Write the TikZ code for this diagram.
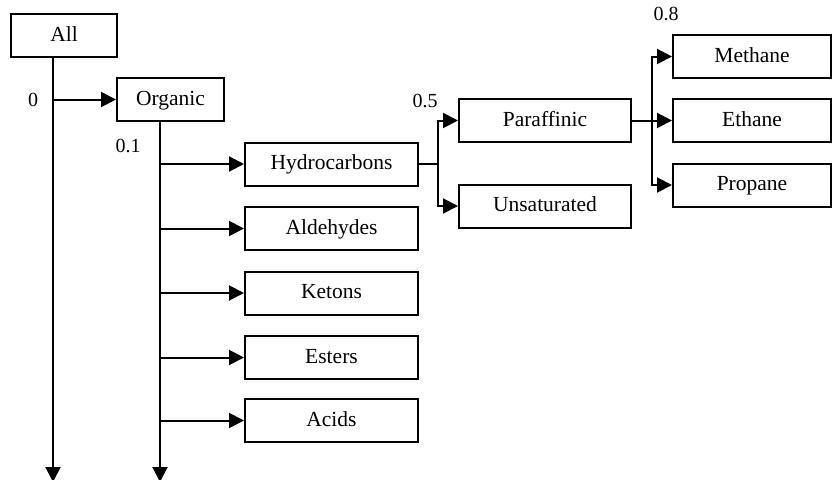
\documentclass[tikz,border=0pt]{standalone}
\usepackage{fontspec}
\setmainfont{Liberation Serif}
\usetikzlibrary{arrows.meta,positioning}

\begin{document}
\begin{tikzpicture}[x=1pt, y=-1pt,
      box/.style={draw, line width=2pt, minimum height=43pt, inner sep=0pt,
                  text height=15pt, text depth=4pt,
                  font=\fontsize{21.5}{24}\selectfont},
      classbox/.style={box, minimum width=173pt},
      gasbox/.style={box, minimum width=158pt},
      link/.style={line width=2pt},
      flow/.style={link, -{Triangle[length=15pt, width=15pt]}},
      weight/.style={font=\fontsize{20}{23}\selectfont}]
    \useasboundingbox (0,0) rectangle (834,479);
    % boxes
    \node[box, minimum width=106pt] (all)     at (64,35.5)   {All};
    \node[box, minimum width=107pt] (organic) at (170.5,99.5) {Organic};
    \node[classbox] (hydro)   at (331.5,164)   {Hydrocarbons};
    \node[classbox] (aldeh)   at (331.5,228.5) {Aldehydes};
    \node[classbox] (ketons)  at (331.5,293)   {Ketons};
    \node[classbox] (esters)  at (331.5,357.5) {Esters};
    \node[classbox] (acids)   at (331.5,420.5) {Acids};
    \node[box, minimum width=172pt] (paraf) at (545,120.5) {Paraffinic};
    \node[box, minimum width=172pt] (unsat) at (545,206)   {Unsaturated};
    \node[gasbox] (methane) at (752,56.5)  {Methane};
    \node[gasbox] (ethane)  at (752,120.5) {Ethane};
    \node[gasbox] (propane) at (752,185)   {Propane};
    % weights
    \node[weight] (w0)  at (33,100)  {0};
    \node[weight] (w1)  at (128,146) {0.1};
    \node[weight] (w5)  at (425,101) {0.5};
    \node[weight] (w8)  at (666,14)  {0.8};
    % junctions
    \coordinate (allend)  at (53,482);
    \coordinate (orgend)  at (160,482);
    \coordinate (hjoin)   at (438,164);
    \coordinate (pjoin)   at (652,120.5);
    % connectors
    \draw[flow] (all.south -| allend) -- (allend);
    \draw[flow] (organic.west -| allend) -- (organic.west);
    \draw[flow] (organic.south -| orgend) -- (orgend);
    \foreach \n in {hydro,aldeh,ketons,esters,acids}
      \draw[flow] (\n.west -| orgend) -- (\n.west);
    \draw[link] (hydro.east) -- (hjoin);
    \draw[flow] (hjoin) |- (paraf.west);
    \draw[flow] (hjoin) |- (unsat.west);
    \draw[flow] (paraf.east) -- (ethane.west);
    \draw[flow] (pjoin) |- (methane.west);
    \draw[flow] (pjoin) |- (propane.west);
  \end{tikzpicture}
\end{document}
